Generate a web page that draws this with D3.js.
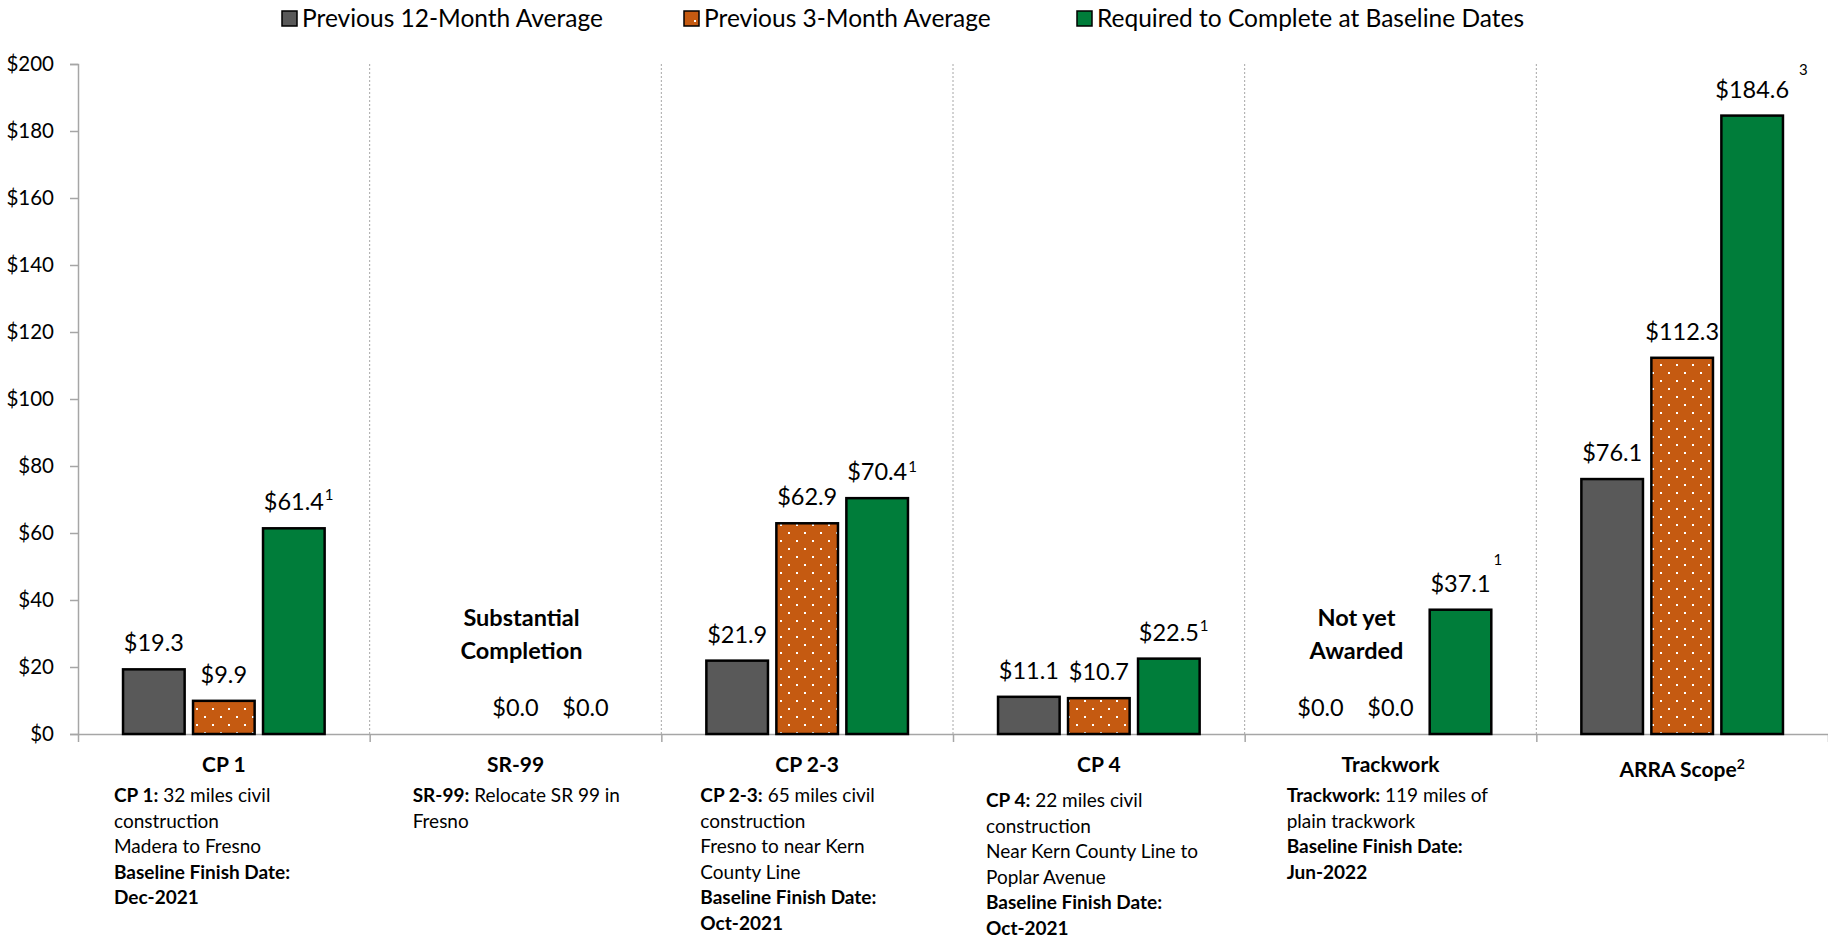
<!DOCTYPE html>
<html>
<head>
<meta charset="utf-8">
<script src="https://cdn.jsdelivr.net/npm/d3@7"></script>
<style>
  body { margin: 0; background: #fff; }
  svg { display: block; font-family: Lato, "Open Sans", sans-serif; }
</style>
</head>
<body>
<div id="chart"></div>
<script>
// chart values
const categories = ["CP 1", "SR-99", "CP 2-3", "CP 4", "Trackwork", "ARRA Scope"];
const categoryNotes = ["", "", "", "", "", "2"];
const seriesNames = ["Previous 12-Month Average", "Previous 3-Month Average", "Required to Complete at Baseline Dates"];
const avg12Month = [19.3, null, 21.9, 11.1, 0, 76.1];
const avg3Month = [9.9, 0, 62.9, 10.7, 0, 112.3];
const requiredBaseline = [61.4, 0, 70.4, 22.5, 37.1, 184.6];
const requiredNotes = ["1", "", "1", "1", "1", "3"];
const yTicks = [0, 20, 40, 60, 80, 100, 120, 140, 160, 180, 200];
const statusNotes = [
    {cat: "SR-99", lines: ["Substantial", "Completion"]},
    {cat: "Trackwork", lines: ["Not yet", "Awarded"]}
];
// description lines: [bold part, normal part]
const descriptions = [
    [["CP 1:", " 32 miles civil"], ["", "construction"], ["", "Madera to Fresno"], ["Baseline Finish Date:", ""], ["Dec-2021", ""]],
    [["SR-99:", " Relocate SR 99 in"], ["", "Fresno"]],
    [["CP 2-3:", " 65 miles civil"], ["", "construction"], ["", "Fresno to near Kern"], ["", "County Line"], ["Baseline Finish Date:", ""], ["Oct-2021", ""]],
    [["CP 4:", " 22 miles civil"], ["", "construction"], ["", "Near Kern County Line to"], ["", "Poplar Avenue"], ["Baseline Finish Date:", ""], ["Oct-2021", ""]],
    [["Trackwork:", " 119 miles of"], ["", "plain trackwork"], ["Baseline Finish Date:", ""], ["Jun-2022", ""]],
    []
];

const seriesData = [avg12Month, avg3Month, requiredBaseline];
const colors = ["#595959", "url(#dots)", "#007D3A"];

// layout
const W = 1828, H = 943;
const plotLeft = 78, plotRight = 1828, plotTop = 64, plotBottom = 734;
const descShift = [36, 43, 39, 33, 42, 0];
const descFirst = [802, 802, 802, 807, 802, 802];
const descStep = 25.6;
const statusShift = {"SR-99": 6, "Trackwork": -34};
const supShift = {"CP 1": [1, -10], "CP 2-3": [1, -8], "CP 4": [1, -10], "Trackwork": [3, -27], "ARRA Scope": [10, -23]};

const svg = d3.select("#chart").append("svg")
    .attr("width", W)
    .attr("height", H);

// dotted orange fill
let pat = svg.append("defs").append("pattern")
    .attr("id", "dots")
    .attr("patternUnits", "userSpaceOnUse")
    .attr("width", 16).attr("height", 16);
pat.append("rect").attr("width", 16).attr("height", 16).attr("fill", "#C55A11");
pat.append("rect").attr("x", 4).attr("y", 4).attr("width", 2).attr("height", 2).attr("fill", "#fff");
pat.append("rect").attr("x", 12).attr("y", 12).attr("width", 2).attr("height", 2).attr("fill", "#fff");

let x0 = d3.scaleBand().domain(categories).range([plotLeft, plotRight]);
let x1 = d3.scaleBand().domain(d3.range(3)).range([-105, 105]).paddingInner(0.12).paddingOuter(0.06);
let y = d3.scaleLinear().domain([0, 200]).range([plotBottom, plotTop]);
let xEdges = d3.scaleLinear().domain([0, categories.length]).range([plotLeft, plotRight]);

// category dividers
svg.append("g").selectAll("line")
    .data(d3.range(1, categories.length))
    .enter().append("line")
    .attr("x1", d => xEdges(d)).attr("x2", d => xEdges(d))
    .attr("y1", plotTop).attr("y2", plotBottom)
    .attr("stroke", "#a6a6a6")
    .attr("stroke-dasharray", "2,2");

// y axis
let yAxis = svg.append("g")
    .attr("transform", "translate(" + plotLeft + ",0)")
    .call(d3.axisLeft(y).tickValues(yTicks).tickSize(8).tickPadding(16).tickFormat(d => "$" + d));
yAxis.selectAll("path, line").attr("stroke", "#a6a6a6").attr("stroke-width", 1.5);
yAxis.selectAll("text").attr("font-size", 20.5).attr("font-family", "Lato").attr("fill", "#000");

// x axis with ticks at category edges
let xAxis = svg.append("g")
    .attr("transform", "translate(0," + plotBottom + ")")
    .call(d3.axisBottom(xEdges).ticks(categories.length).tickSize(8).tickSizeOuter(0).tickFormat(""));
xAxis.selectAll("path, line").attr("stroke", "#a6a6a6").attr("stroke-width", 1.5);

// bars
let rows = [];
categories.forEach((c, i) => {
    seriesData.forEach((s, j) => {
        rows.push({cat: c, idx: i, s: j, v: s[i], note: j === 2 ? requiredNotes[i] : ""});
    });
});

svg.append("g").selectAll("rect")
    .data(rows.filter(d => d.v))
    .enter().append("rect")
    .attr("x", d => x0(d.cat) + x0.bandwidth() / 2 + x1(d.s))
    .attr("y", d => y(d.v))
    .attr("width", x1.bandwidth())
    .attr("height", d => plotBottom - y(d.v))
    .attr("fill", d => colors[d.s])
    .attr("stroke", "#000")
    .attr("stroke-width", 2.5);

// value labels
let labels = svg.append("g").selectAll("text")
    .data(rows.filter(d => d.v !== null))
    .enter().append("text")
    .attr("x", d => x0(d.cat) + x0.bandwidth() / 2 + x1(d.s) + x1.bandwidth() / 2)
    .attr("y", d => y(d.v) - 18)
    .attr("text-anchor", "middle")
    .attr("font-size", 23.5)
    .text(d => "$" + d.v.toFixed(1));

labels.filter(d => d.note).each(function(d) {
    let sh = supShift[d.cat] || [1, -10];
    let bb = this.getBBox();
    svg.append("text")
        .attr("x", bb.x + bb.width + sh[0])
        .attr("y", y(d.v) - 18 + sh[1])
        .attr("font-size", 15)
        .text(d.note);
});

// status notes
statusNotes.forEach(n => {
    let cx = x0(n.cat) + x0.bandwidth() / 2 + statusShift[n.cat];
    svg.append("text")
        .attr("text-anchor", "middle")
        .attr("font-size", 23.5)
        .attr("font-weight", "bold")
        .selectAll("tspan")
        .data(n.lines)
        .enter().append("tspan")
        .attr("x", cx)
        .attr("y", (d, k) => 626 + k * 33)
        .text(d => d);
});

// category labels
let catLabels = svg.append("g").selectAll("text")
    .data(categories)
    .enter().append("text")
    .attr("x", d => x0(d) + x0.bandwidth() / 2)
    .attr("y", (d, i) => categoryNotes[i] ? 777 : 772)
    .attr("text-anchor", "middle")
    .attr("font-size", 21)
    .attr("font-weight", "bold")
    .text(d => d);
catLabels.filter((d, i) => categoryNotes[i])
    .append("tspan")
    .attr("font-size", 14)
    .attr("dy", -8)
    .text(d => categoryNotes[categories.indexOf(d)]);

// descriptions
descriptions.forEach((lines, i) => {
    let g = svg.append("g");
    lines.forEach((ln, k) => {
        let t = g.append("text")
            .attr("x", x0(categories[i]) + descShift[i])
            .attr("y", descFirst[i] + k * descStep)
            .attr("font-size", 19);
        if (ln[0]) t.append("tspan").attr("font-weight", "bold").text(ln[0]);
        if (ln[1]) t.append("tspan").text(ln[1]);
    });
});

// legend
const legendX = [282, 684, 1077];
let legend = svg.append("g").selectAll("g")
    .data(seriesNames)
    .enter().append("g")
    .attr("transform", (d, i) => "translate(" + legendX[i] + ",11)");
legend.append("rect")
    .attr("width", 15).attr("height", 15)
    .attr("fill", (d, i) => i === 1 ? "#C55A11" : colors[i])
    .attr("stroke", "#000")
    .attr("stroke-width", 1.5);
legend.filter((d, i) => i === 1).append("rect")
    .attr("x", 10).attr("y", 9).attr("width", 2).attr("height", 2).attr("fill", "#fff");
legend.append("text")
    .attr("x", 20)
    .attr("y", 16)
    .attr("font-size", 24.5)
    .text(d => d);
</script>
</body>
</html>
